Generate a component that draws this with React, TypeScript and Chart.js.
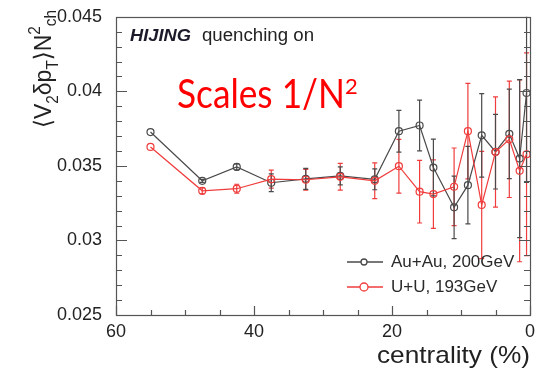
import React, { useEffect, useRef } from "react";
import { Chart, registerables } from "chart.js";

Chart.register(...registerables);

// ---- data ----
const centralityAu = [55, 47.5, 42.5, 37.5, 32.5, 27.5, 22.5, 19, 16, 14, 11, 9, 7, 5, 3, 1.5, 0.5];
const valuesAu = [0.03727, 0.034, 0.03493, 0.03387, 0.03413, 0.03433, 0.0341, 0.03733, 0.03771, 0.03489, 0.03222, 0.03371, 0.03705, 0.03595, 0.03715, 0.03549, 0.03989];
const errorsAu = [0, 0.0001, 0.0002, 0.0006, 0.0007, 0.0006, 0.0007, 0.0014, 0.0017, 0.0019, 0.0021, 0.0026, 0.0028, 0.0025, 0.003, 0.0053, 0.006];

const centralityU = [55, 47.5, 42.5, 37.5, 32.5, 27.5, 22.5, 19, 16, 14, 11, 9, 7, 5, 3, 1.5, 0.5];
const valuesU = [0.03627, 0.03333, 0.03347, 0.03411, 0.03407, 0.03427, 0.034, 0.03498, 0.03327, 0.03311, 0.0336, 0.03733, 0.03238, 0.03593, 0.03678, 0.03467, 0.03578];
const errorsU = [0, 0.0002, 0.0003, 0.0006, 0.0007, 0.0009, 0.0012, 0.0018, 0.0021, 0.0023, 0.0026, 0.0032, 0.0036, 0.0037, 0.0039, 0.0061, 0.0068];

const xMin = 0;
const xMax = 60;
const yMin = 0.025;
const yMax = 0.045;

const labelAu = "Au+Au, 200GeV";
const labelU = "U+U, 193GeV";
const xTitle = "centrality (%)";
const annotation = "Scales 1/N";

const colorAu = "#4a4a4a";
const colorU = "#f03c3c";
const FONT = "'Liberation Sans', Arial, 'DejaVu Sans', sans-serif";

function drawFitted(ctx: CanvasRenderingContext2D, text: string, x: number, y: number, width: number, align: "left" | "right") {
  const w = ctx.measureText(text).width;
  const s = width / w;
  ctx.save();
  ctx.translate(x, y);
  ctx.scale(s, 1);
  ctx.textAlign = align;
  ctx.fillText(text, 0, 0);
  ctx.restore();
}

const errorBarPlugin = {
  id: "errorBars",
  beforeDatasetsDraw(chart: any) {
    const ctx = chart.ctx as CanvasRenderingContext2D;
    const ys = chart.scales.y;
    chart.data.datasets.forEach((ds: any, i: number) => {
      const meta = chart.getDatasetMeta(i);
      ctx.save();
      ctx.strokeStyle = ds.borderColor;
      ctx.lineWidth = 1.2;
      meta.data.forEach((pt: any, j: number) => {
        const e = ds.errors[j];
        if (!e) return;
        const v = ds.data[j].y;
        const top = ys.getPixelForValue(v + e);
        const bot = ys.getPixelForValue(v - e);
        const x = pt.x;
        ctx.beginPath();
        ctx.moveTo(x, Math.max(top, chart.chartArea.top));
        ctx.lineTo(x, Math.min(bot, chart.chartArea.bottom));
        if (top >= chart.chartArea.top) {
          ctx.moveTo(x - 2.5, top);
          ctx.lineTo(x + 2.5, top);
        }
        if (bot <= chart.chartArea.bottom) {
          ctx.moveTo(x - 2.5, bot);
          ctx.lineTo(x + 2.5, bot);
        }
        ctx.stroke();
      });
      ctx.restore();
    });
  },
};

const decorPlugin = {
  id: "decor",
  afterDraw(chart: any) {
    const ctx = chart.ctx as CanvasRenderingContext2D;
    const { left, right, top, bottom } = chart.chartArea;
    const xs = chart.scales.x;
    const ys = chart.scales.y;
    ctx.save();
    // frame
    ctx.strokeStyle = "#555";
    ctx.lineWidth = 1.2;
    ctx.strokeRect(Math.round(left) + 0.5, Math.round(top) + 0.5, Math.round(right - left), Math.round(bottom - top));
    // y ticks
    ctx.beginPath();
    for (let i = 25; i <= 45; i++) {
      const py = Math.round(ys.getPixelForValue(i / 1000)) + 0.5;
      const len = i % 5 === 0 ? 11 : 6;
      ctx.moveTo(left, py);
      ctx.lineTo(left + len, py);
      ctx.moveTo(right, py);
      ctx.lineTo(right - len, py);
    }
    // x ticks
    for (let i = 0; i <= 60; i += 5) {
      const px = Math.round(xs.getPixelForValue(i)) + 0.5;
      const len = i % 20 === 0 ? 9 : 5;
      ctx.moveTo(px, bottom);
      ctx.lineTo(px, bottom - len);
    }
    ctx.stroke();

    // HIJING label
    ctx.fillStyle = "#1a1a2a";
    ctx.textBaseline = "alphabetic";
    ctx.font = `italic bold 17px ${FONT}`;
    drawFitted(ctx, "HIJING", 130, 41, 61, "left");
    ctx.fillStyle = "#222";
    ctx.font = `18px ${FONT}`;
    drawFitted(ctx, "quenching on", 202, 41, 112, "left");

    // Scales 1/N^2
    ctx.fillStyle = "#ff0000";
    ctx.font = `40px Lato, 'Open Sans', sans-serif`;
    drawFitted(ctx, annotation, 177, 108, 168, "left");
    ctx.font = `22px Lato, 'Open Sans', sans-serif`;
    ctx.textAlign = "left";
    ctx.fillText("2", 345, 94);

    // legend
    const legend = [
      { label: labelAu, color: colorAu, y: 262, r: 3 },
      { label: labelU, color: colorU, y: 287, r: 4 },
    ];
    legend.forEach((l) => {
      ctx.strokeStyle = l.color;
      ctx.lineWidth = 1.3;
      ctx.beginPath();
      ctx.moveTo(347, l.y);
      ctx.lineTo(383, l.y);
      ctx.stroke();
      ctx.beginPath();
      ctx.fillStyle = "#fff";
      ctx.arc(364, l.y, l.r, 0, Math.PI * 2);
      ctx.fill();
      ctx.stroke();
      ctx.fillStyle = "#2a2a2a";
      ctx.font = `17px ${FONT}`;
      ctx.textBaseline = "middle";
      ctx.textAlign = "left";
      ctx.fillText(l.label, 391, l.y);
    });

    // x title
    ctx.textBaseline = "alphabetic";
    ctx.fillStyle = "#222";
    ctx.font = `24px ${FONT}`;
    drawFitted(ctx, xTitle, 530, 363, 153, "right");

    // y title (rotated)
    ctx.save();
    ctx.translate(51, 128);
    ctx.rotate(-Math.PI / 2);
    const parts: { t: string; size: number; dy: number }[] = [
      { t: "\u27E8", size: 24, dy: 0 },
      { t: "V", size: 24, dy: 0 },
      { t: "2", size: 16, dy: 7 },
      { t: "\u03B4p", size: 24, dy: 0 },
      { t: "T", size: 16, dy: 7 },
      { t: "\u27E9", size: 24, dy: 0 },
      { t: "N", size: 24, dy: 0 },
      { t: "2", size: 16, dy: -11 },
      { t: "ch", size: 16, dy: 5 },
    ];
    let total = 0;
    parts.forEach((p) => {
      ctx.font = `${p.size}px ${FONT}`;
      total += ctx.measureText(p.t).width;
    });
    const sx = 118 / total;
    ctx.scale(sx, 1);
    let cx = 0;
    parts.forEach((p) => {
      ctx.font = `${p.size}px ${FONT}`;
      ctx.textAlign = "left";
      ctx.fillText(p.t, cx, p.dy);
      cx += ctx.measureText(p.t).width;
    });
    ctx.restore();

    ctx.restore();
  },
};

export default function App() {
  const canvasRef = useRef<HTMLCanvasElement | null>(null);

  useEffect(() => {
    const canvas = canvasRef.current;
    if (!canvas) return;
    const chart = new Chart(canvas, {
      type: "line",
      data: {
        datasets: [
          {
            label: labelU,
            data: centralityU.map((x, i) => ({ x, y: valuesU[i] })),
            errors: errorsU,
            borderColor: colorU,
            backgroundColor: "rgba(0,0,0,0)",
            pointBackgroundColor: "rgba(255,255,255,0)",
            pointBorderColor: colorU,
            pointRadius: 3.5,
            pointBorderWidth: 1.2,
            borderWidth: 1.2,
            tension: 0,
          } as any,
          {
            label: labelAu,
            data: centralityAu.map((x, i) => ({ x, y: valuesAu[i] })),
            errors: errorsAu,
            borderColor: colorAu,
            backgroundColor: "rgba(0,0,0,0)",
            pointBackgroundColor: "rgba(255,255,255,0)",
            pointBorderColor: colorAu,
            pointRadius: 3.5,
            pointBorderWidth: 1.2,
            borderWidth: 1.2,
            tension: 0,
          } as any,
        ],
      },
      options: {
        animation: false,
        responsive: false,
        maintainAspectRatio: false,
        layout: { padding: { top: 15, right: 9, left: 0, bottom: 0 } },
        plugins: { legend: { display: false }, tooltip: { enabled: false } },
        scales: {
          x: {
            type: "linear",
            reverse: true,
            min: xMin,
            max: xMax,
            grid: { display: false },
            border: { display: false },
            ticks: {
              stepSize: 20,
              padding: -2,
              maxRotation: 0,
              color: "#222",
              font: { family: FONT, size: 18 },
            },
            afterFit: (s: any) => {
              s.height = 62;
            },
          },
          y: {
            min: yMin,
            max: yMax,
            grid: { display: false },
            border: { display: false },
            ticks: {
              stepSize: 0.005,
              padding: 6,
              color: "#222",
              font: { family: FONT, size: 18 },
              callback: (v: any) => String(Number(Number(v).toFixed(3))),
            },
            afterFit: (s: any) => {
              s.width = 116;
            },
          },
        },
      },
      plugins: [errorBarPlugin, decorPlugin],
    });
    return () => chart.destroy();
  }, []);

  return (
    <div style={{ position: "absolute", left: 0, top: 0, width: 539, height: 377, background: "#fff" }}>
      <canvas ref={canvasRef} width={539} height={377} />
    </div>
  );
}
